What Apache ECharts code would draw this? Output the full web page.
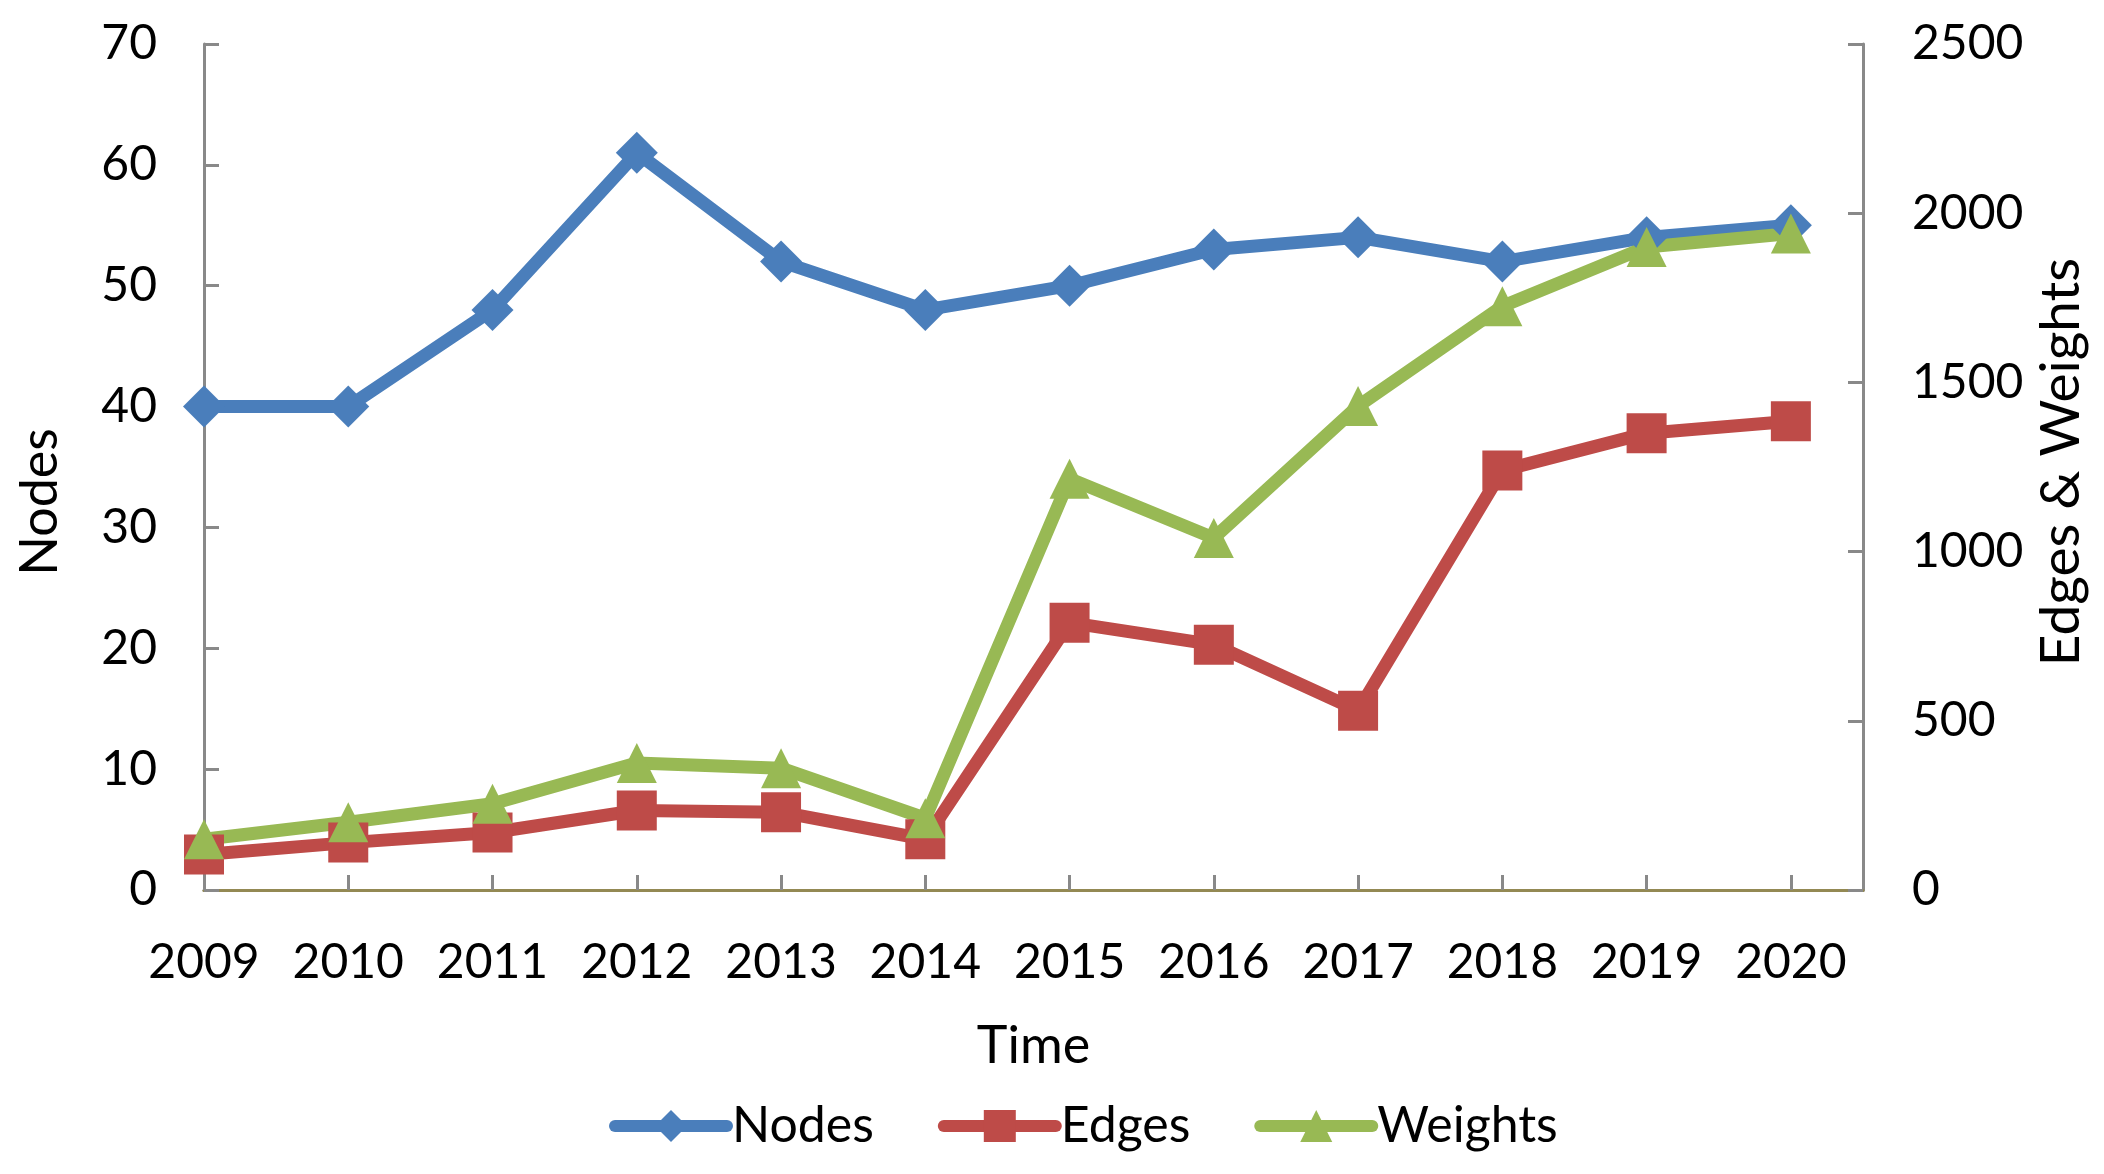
<!DOCTYPE html>
<html>
<head>
<meta charset="utf-8">
<script src="https://cdn.jsdelivr.net/npm/echarts@6/dist/echarts.min.js"></script>
<style>
html,body{margin:0;padding:0;background:#fff;}
#chart{width:2104px;height:1174px;}
</style>
</head>
<body>
<div id="chart"></div>
<script>
const years = [2009, 2010, 2011, 2012, 2013, 2014, 2015, 2016, 2017, 2018, 2019, 2020];
const nodes = [40, 40, 48, 61, 52, 48, 50, 53, 54, 52, 54, 55];
const edges = [105, 140, 170, 235, 230, 150, 790, 725, 530, 1240, 1350, 1385];
const weights = [150, 200, 255, 375, 360, 212, 1215, 1040, 1430, 1725, 1900, 1940];
const xRange = [2009, 2020.5, 1];
const leftTicks = [0, 70, 10];
const rightTicks = [0, 2500, 500];

const FONT = 'Lato';
const txt = {fontFamily: FONT, fontSize: 48, color: '#000'};
const nameTxt = {fontFamily: FONT, fontSize: 52, color: '#000'};
const axisGray = '#898989';
const pairs = arr => years.map((y, i) => [y, arr[i]]);
const intLabel = v => (Number.isInteger(v) ? String(v) : '');

const chart = echarts.init(document.getElementById('chart'));
chart.setOption({
  animation: false,
  backgroundColor: '#fff',
  grid: {left: 204, right: 241, top: 44, bottom: 284, containLabel: false},
  legend: {
    data: ['Nodes', 'Edges', 'Weights'],
    left: 604, top: 1096,
    itemWidth: 112, itemHeight: 40, itemGap: 64,
    lineStyle: {width: 12, cap: 'round'},
    textStyle: {fontFamily: FONT, fontSize: 50, color: '#000'}
  },
  xAxis: [{
    type: 'value', min: xRange[0], max: xRange[1], interval: xRange[2],
    name: 'Time', nameLocation: 'middle', nameGap: 130,
    nameTextStyle: nameTxt,
    axisLine: {lineStyle: {color: axisGray, width: 3}},
    axisTick: {inside: true, length: 15, lineStyle: {color: axisGray, width: 3}},
    axisLabel: Object.assign({margin: 49, formatter: intLabel, showMaxLabel: false}, txt),
    splitLine: {show: false}
  }, {
    type: 'value', min: xRange[0], max: xRange[1], interval: xRange[2], position: 'top',
    axisLine: {show: true, lineStyle: {color: '#938953', width: 3}},
    axisTick: {show: false}, axisLabel: {show: false}, splitLine: {show: false}
  }],
  yAxis: [{
    type: 'value', min: leftTicks[0], max: leftTicks[1], interval: leftTicks[2],
    name: 'Nodes', nameLocation: 'middle', nameGap: 138, nameRotate: 90,
    nameTextStyle: Object.assign({padding: [0, 70, 0, 0]}, nameTxt),
    axisLine: {show: true, lineStyle: {color: axisGray, width: 3}},
    axisTick: {show: true, inside: true, length: 15, lineStyle: {color: axisGray, width: 3}},
    axisLabel: Object.assign({margin: 47}, txt),
    splitLine: {show: false}
  }, {
    type: 'value', min: rightTicks[0], max: rightTicks[1], interval: rightTicks[2],
    position: 'right',
    name: 'Edges & Weights', nameLocation: 'middle', nameGap: 166, nameRotate: 90,
    nameTextStyle: Object.assign({padding: [0, 0, 0, 10]}, nameTxt, {fontSize: 55}),
    axisLine: {show: true, lineStyle: {color: axisGray, width: 3}},
    axisTick: {show: true, inside: true, length: 15, lineStyle: {color: axisGray, width: 3}},
    axisLabel: Object.assign({margin: 49, formatter: v => String(v)}, txt),
    splitLine: {show: false}
  }],
  series: [{
    name: 'Nodes', type: 'line', yAxisIndex: 0, data: pairs(nodes),
    symbol: 'diamond', symbolSize: 42,
    itemStyle: {color: '#4A7EBB'},
    lineStyle: {color: '#4A7EBB', width: 13}
  }, {
    name: 'Edges', type: 'line', yAxisIndex: 1, data: pairs(edges),
    symbol: 'rect', symbolSize: 40,
    itemStyle: {color: '#BE4B48'},
    lineStyle: {color: '#BE4B48', width: 13}
  }, {
    name: 'Weights', type: 'line', yAxisIndex: 1, data: pairs(weights),
    symbol: 'triangle', symbolSize: 40,
    itemStyle: {color: '#98B954'},
    lineStyle: {color: '#98B954', width: 13}
  }]
});
</script>
</body>
</html>
